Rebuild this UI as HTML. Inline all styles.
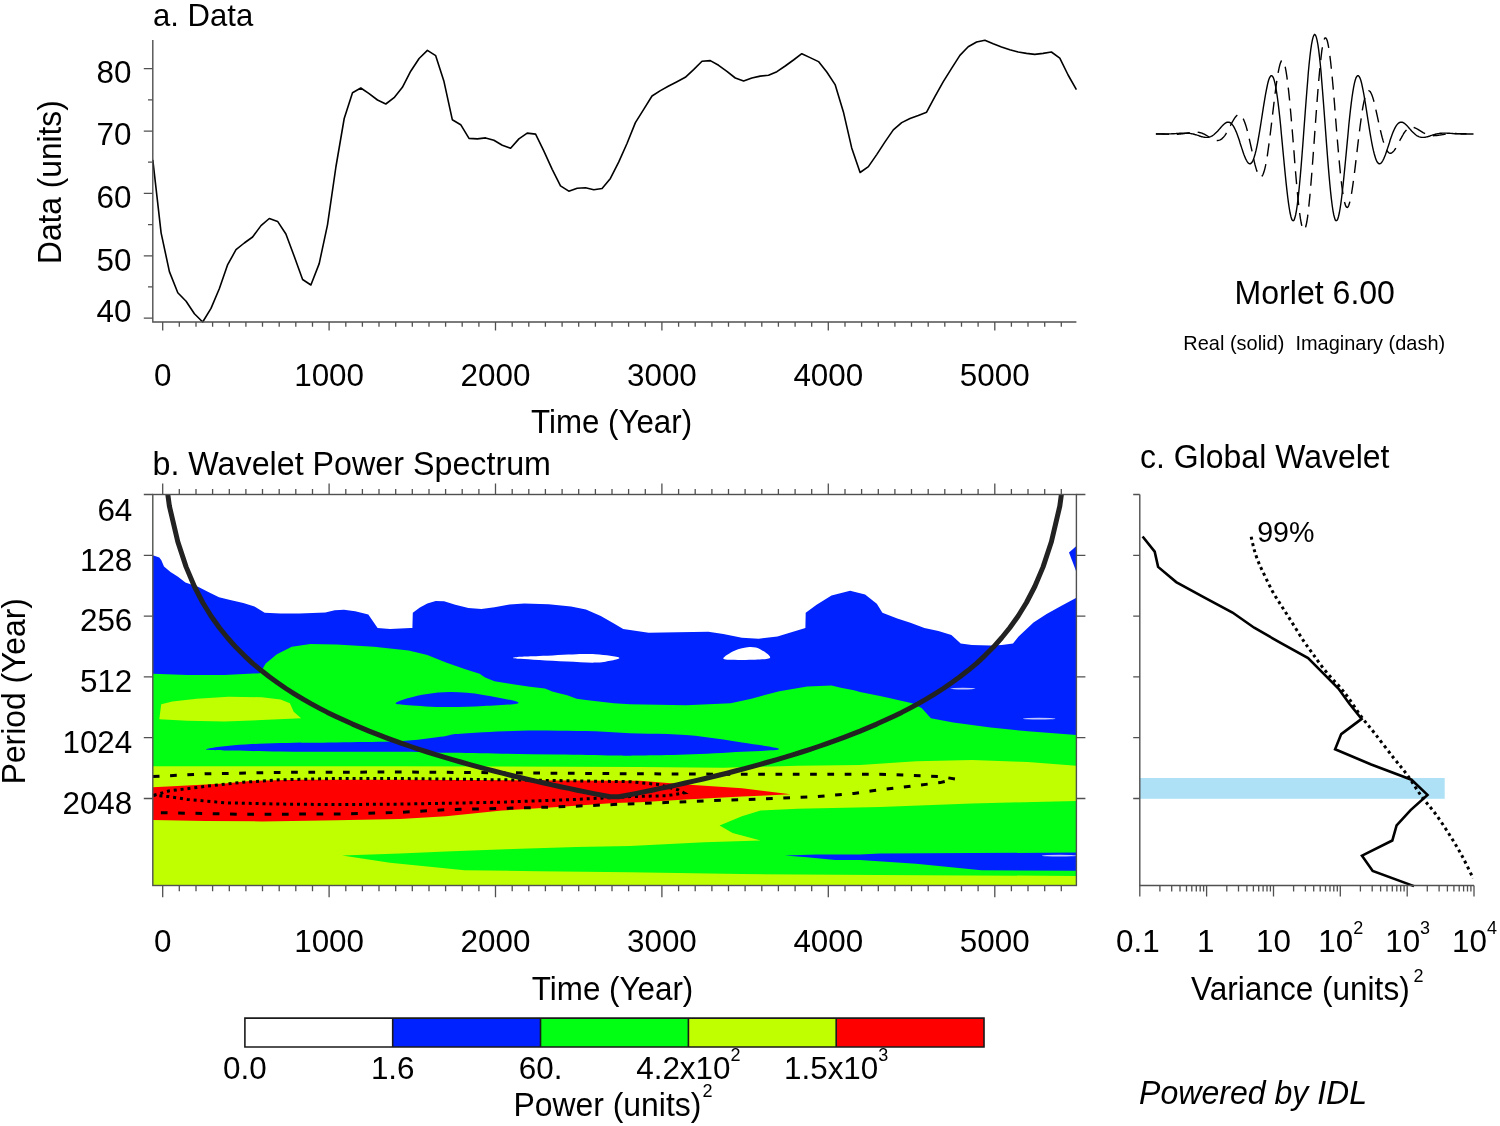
<!DOCTYPE html>
<html><head><meta charset="utf-8"><style>
html,body{margin:0;padding:0;background:#fff;}
svg{display:block;filter:blur(0.45px);}
text{font-family:"Liberation Sans", sans-serif;fill:#000;}
</style></head><body>
<svg width="1500" height="1126" viewBox="0 0 1500 1126">
<rect width="1500" height="1126" fill="#fff"/>
<polyline points="152.8,159.9 161.1,232.8 169.4,271.6 177.8,292.7 186.1,301.2 194.4,313.8 202.7,322.0 211.0,308.4 219.4,288.5 227.7,264.6 236.0,249.7 244.3,243.0 252.6,237.0 261.0,225.6 269.3,218.5 277.6,221.4 285.9,234.0 294.3,256.5 302.6,279.5 310.9,285.0 319.2,263.6 327.5,224.8 335.9,167.0 344.2,118.5 352.5,92.7 360.8,88.0 369.1,93.6 377.5,100.0 385.8,104.0 394.1,97.7 402.4,87.3 410.7,71.2 419.1,58.5 427.4,50.4 435.7,55.7 444.0,81.6 452.3,119.7 460.7,124.7 469.0,138.4 477.3,138.9 485.6,137.9 493.9,140.3 502.3,145.3 510.6,148.3 518.9,138.9 527.2,133.1 535.6,134.1 543.9,151.2 552.2,169.3 560.5,185.9 568.8,191.2 577.2,188.3 585.5,187.8 593.8,189.8 602.1,188.5 610.4,178.4 618.8,161.9 627.1,143.2 635.4,122.6 643.7,109.3 652.0,96.0 660.4,90.6 668.7,86.0 677.0,81.7 685.3,77.3 693.6,69.6 702.0,61.3 710.3,60.6 718.6,65.3 726.9,71.3 735.3,78.0 743.6,81.0 751.9,78.0 760.2,76.1 768.5,75.3 776.9,71.7 785.2,66.0 793.5,60.0 801.8,53.7 810.1,57.6 818.5,61.6 826.8,72.0 835.1,84.6 843.4,111.9 851.7,147.9 860.1,172.5 868.4,166.6 876.7,154.6 885.0,141.9 893.3,129.9 901.7,122.6 910.0,118.5 918.3,115.6 926.6,112.2 934.9,96.6 943.3,81.6 951.6,68.4 959.9,55.4 968.2,46.8 976.6,42.0 984.9,40.2 993.2,43.8 1001.5,47.0 1009.8,49.8 1018.2,52.0 1026.5,53.4 1034.8,54.4 1043.1,53.4 1051.4,52.0 1059.8,58.2 1068.1,75.0 1076.4,89.6" fill="none" stroke="#000" stroke-width="1.6" stroke-linejoin="round"/>
<path d="M152.8,40 V322 H1076.4" fill="none" stroke="#505050" stroke-width="1.4"/>
<path d="M143.8,318.1H152.8M148.0,286.9H152.8M143.8,255.8H152.8M148.0,224.6H152.8M143.8,193.4H152.8M148.0,162.2H152.8M143.8,131.1H152.8M148.0,99.9H152.8M143.8,68.7H152.8M162.7,322V330.4M179.3,322V326.7M196.0,322V326.7M212.6,322V326.7M229.3,322V326.7M245.9,322V326.7M262.5,322V326.7M279.2,322V326.7M295.8,322V326.7M312.5,322V326.7M329.1,322V330.4M345.8,322V326.7M362.4,322V326.7M379.0,322V326.7M395.7,322V326.7M412.3,322V326.7M429.0,322V326.7M445.6,322V326.7M462.2,322V326.7M478.9,322V326.7M495.5,322V330.4M512.2,322V326.7M528.8,322V326.7M545.4,322V326.7M562.1,322V326.7M578.7,322V326.7M595.4,322V326.7M612.0,322V326.7M628.6,322V326.7M645.3,322V326.7M661.9,322V330.4M678.6,322V326.7M695.2,322V326.7M711.9,322V326.7M728.5,322V326.7M745.1,322V326.7M761.8,322V326.7M778.4,322V326.7M795.1,322V326.7M811.7,322V326.7M828.3,322V330.4M845.0,322V326.7M861.6,322V326.7M878.3,322V326.7M894.9,322V326.7M911.5,322V326.7M928.2,322V326.7M944.8,322V326.7M961.5,322V326.7M978.1,322V326.7M994.8,322V330.4M1011.4,322V326.7M1028.0,322V326.7M1044.7,322V326.7M1061.3,322V326.7" stroke="#505050" stroke-width="1.3" fill="none"/>
<text x="131.50" y="83.2" font-size="31.4" text-anchor="end" >80</text>
<text x="131.50" y="145.4" font-size="31.4" text-anchor="end" >70</text>
<text x="131.50" y="207.9" font-size="31.4" text-anchor="end" >60</text>
<text x="131.50" y="270.5" font-size="31.4" text-anchor="end" >50</text>
<text x="131.50" y="321.5" font-size="31.4" text-anchor="end" >40</text>
<text x="162.70" y="385.5" font-size="31.4" text-anchor="middle" >0</text>
<text x="329.11" y="385.5" font-size="31.4" text-anchor="middle" >1000</text>
<text x="495.52" y="385.5" font-size="31.4" text-anchor="middle" >2000</text>
<text x="661.93" y="385.5" font-size="31.4" text-anchor="middle" >3000</text>
<text x="828.34" y="385.5" font-size="31.4" text-anchor="middle" >4000</text>
<text x="994.75" y="385.5" font-size="31.4" text-anchor="middle" >5000</text>
<text transform="matrix(1 0 0 1.035 0 -15.17)" x="531.10" y="433.3" font-size="31.27"  xml:space="preserve">Time (Year)</text>
<text transform="matrix(1 0 0 1.035 0 -0.91)" x="152.98" y="26.0" font-size="31.12"  xml:space="preserve">a. Data</text>
<text transform="translate(61.3,261.4) rotate(-90) scale(1,1.035)" x="-2.60" y="0" font-size="31.69">Data (units)</text>
<polyline points="1155.9,134.0 1156.7,134.0 1157.5,134.0 1158.3,134.0 1159.0,134.0 1159.8,134.0 1160.6,134.0 1161.4,134.0 1162.2,134.0 1163.0,134.0 1163.8,134.0 1164.6,134.0 1165.4,134.0 1166.2,134.0 1167.0,134.0 1167.8,134.0 1168.6,134.0 1169.4,133.9 1170.2,133.9 1171.0,133.9 1171.8,133.8 1172.5,133.8 1173.3,133.7 1174.1,133.7 1174.9,133.6 1175.7,133.6 1176.5,133.5 1177.3,133.5 1178.1,133.4 1178.9,133.4 1179.7,133.3 1180.5,133.2 1181.3,133.2 1182.1,133.2 1182.9,133.1 1183.7,133.1 1184.5,133.1 1185.3,133.1 1186.0,133.1 1186.8,133.1 1187.6,133.2 1188.4,133.2 1189.2,133.3 1190.0,133.4 1190.8,133.6 1191.6,133.7 1192.4,133.9 1193.2,134.0 1194.0,134.2 1194.8,134.5 1195.6,134.7 1196.4,134.9 1197.2,135.2 1198.0,135.4 1198.8,135.7 1199.5,136.0 1200.3,136.2 1201.1,136.5 1201.9,136.7 1202.7,136.9 1203.5,137.1 1204.3,137.2 1205.1,137.4 1205.9,137.4 1206.7,137.4 1207.5,137.4 1208.3,137.3 1209.1,137.1 1209.9,136.9 1210.7,136.6 1211.5,136.2 1212.3,135.8 1213.0,135.3 1213.8,134.7 1214.6,134.0 1215.4,133.3 1216.2,132.6 1217.0,131.7 1217.8,130.9 1218.6,130.0 1219.4,129.1 1220.2,128.2 1221.0,127.3 1221.8,126.4 1222.6,125.5 1223.4,124.7 1224.2,124.0 1225.0,123.4 1225.8,122.9 1226.5,122.5 1227.3,122.2 1228.1,122.2 1228.9,122.2 1229.7,122.5 1230.5,122.9 1231.3,123.5 1232.1,124.4 1232.9,125.4 1233.7,126.7 1234.5,128.1 1235.3,129.8 1236.1,131.6 1236.9,133.6 1237.7,135.7 1238.5,138.0 1239.3,140.3 1240.0,142.7 1240.8,145.2 1241.6,147.6 1242.4,150.1 1243.2,152.4 1244.0,154.7 1244.8,156.7 1245.6,158.6 1246.4,160.3 1247.2,161.7 1248.0,162.7 1248.8,163.4 1249.6,163.8 1250.4,163.7 1251.2,163.2 1252.0,162.3 1252.8,160.9 1253.6,159.1 1254.3,156.8 1255.1,154.0 1255.9,150.9 1256.7,147.3 1257.5,143.3 1258.3,139.0 1259.1,134.4 1259.9,129.6 1260.7,124.6 1261.5,119.5 1262.3,114.3 1263.1,109.2 1263.9,104.1 1264.7,99.3 1265.5,94.7 1266.3,90.4 1267.1,86.5 1267.8,83.2 1268.6,80.3 1269.4,78.1 1270.2,76.6 1271.0,75.7 1271.8,75.7 1272.6,76.4 1273.4,77.9 1274.2,80.3 1275.0,83.4 1275.8,87.4 1276.6,92.1 1277.4,97.5 1278.2,103.6 1279.0,110.4 1279.8,117.6 1280.6,125.3 1281.3,133.3 1282.1,141.6 1282.9,150.1 1283.7,158.5 1284.5,166.9 1285.3,175.0 1286.1,182.9 1286.9,190.2 1287.7,197.0 1288.5,203.2 1289.3,208.5 1290.1,213.0 1290.9,216.5 1291.7,219.1 1292.5,220.5 1293.3,220.8 1294.1,220.0 1294.8,218.1 1295.6,215.0 1296.4,210.8 1297.2,205.5 1298.0,199.2 1298.8,191.9 1299.6,183.8 1300.4,174.9 1301.2,165.4 1302.0,155.3 1302.8,144.9 1303.6,134.1 1304.4,123.3 1305.2,112.5 1306.0,102.0 1306.8,91.7 1307.6,81.9 1308.3,72.7 1309.1,64.3 1309.9,56.8 1310.7,50.2 1311.5,44.6 1312.3,40.3 1313.1,37.1 1313.9,35.2 1314.7,34.5 1315.5,35.2 1316.3,37.1 1317.1,40.3 1317.9,44.6 1318.7,50.2 1319.5,56.8 1320.3,64.3 1321.1,72.7 1321.8,81.9 1322.6,91.7 1323.4,102.0 1324.2,112.5 1325.0,123.3 1325.8,134.1 1326.6,144.9 1327.4,155.3 1328.2,165.4 1329.0,174.9 1329.8,183.8 1330.6,191.9 1331.4,199.2 1332.2,205.5 1333.0,210.8 1333.8,215.0 1334.6,218.1 1335.3,220.0 1336.1,220.8 1336.9,220.5 1337.7,219.1 1338.5,216.5 1339.3,213.0 1340.1,208.5 1340.9,203.2 1341.7,197.0 1342.5,190.2 1343.3,182.9 1344.1,175.0 1344.9,166.9 1345.7,158.5 1346.5,150.1 1347.3,141.6 1348.1,133.3 1348.8,125.3 1349.6,117.6 1350.4,110.4 1351.2,103.6 1352.0,97.5 1352.8,92.1 1353.6,87.4 1354.4,83.4 1355.2,80.3 1356.0,77.9 1356.8,76.4 1357.6,75.7 1358.4,75.7 1359.2,76.6 1360.0,78.1 1360.8,80.3 1361.6,83.2 1362.3,86.5 1363.1,90.4 1363.9,94.7 1364.7,99.3 1365.5,104.1 1366.3,109.2 1367.1,114.3 1367.9,119.5 1368.7,124.6 1369.5,129.6 1370.3,134.4 1371.1,139.0 1371.9,143.3 1372.7,147.3 1373.5,150.9 1374.3,154.0 1375.1,156.8 1375.8,159.1 1376.6,160.9 1377.4,162.3 1378.2,163.2 1379.0,163.7 1379.8,163.8 1380.6,163.4 1381.4,162.7 1382.2,161.7 1383.0,160.3 1383.8,158.6 1384.6,156.7 1385.4,154.7 1386.2,152.4 1387.0,150.1 1387.8,147.6 1388.6,145.2 1389.4,142.7 1390.1,140.3 1390.9,138.0 1391.7,135.7 1392.5,133.6 1393.3,131.6 1394.1,129.8 1394.9,128.1 1395.7,126.7 1396.5,125.4 1397.3,124.4 1398.1,123.5 1398.9,122.9 1399.7,122.5 1400.5,122.2 1401.3,122.2 1402.1,122.2 1402.9,122.5 1403.6,122.9 1404.4,123.4 1405.2,124.0 1406.0,124.7 1406.8,125.5 1407.6,126.4 1408.4,127.3 1409.2,128.2 1410.0,129.1 1410.8,130.0 1411.6,130.9 1412.4,131.7 1413.2,132.6 1414.0,133.3 1414.8,134.0 1415.6,134.7 1416.4,135.3 1417.1,135.8 1417.9,136.2 1418.7,136.6 1419.5,136.9 1420.3,137.1 1421.1,137.3 1421.9,137.4 1422.7,137.4 1423.5,137.4 1424.3,137.4 1425.1,137.2 1425.9,137.1 1426.7,136.9 1427.5,136.7 1428.3,136.5 1429.1,136.2 1429.9,136.0 1430.6,135.7 1431.4,135.4 1432.2,135.2 1433.0,134.9 1433.8,134.7 1434.6,134.5 1435.4,134.2 1436.2,134.0 1437.0,133.9 1437.8,133.7 1438.6,133.6 1439.4,133.4 1440.2,133.3 1441.0,133.2 1441.8,133.2 1442.6,133.1 1443.4,133.1 1444.1,133.1 1444.9,133.1 1445.7,133.1 1446.5,133.1 1447.3,133.2 1448.1,133.2 1448.9,133.2 1449.7,133.3 1450.5,133.4 1451.3,133.4 1452.1,133.5 1452.9,133.5 1453.7,133.6 1454.5,133.6 1455.3,133.7 1456.1,133.7 1456.9,133.8 1457.6,133.8 1458.4,133.9 1459.2,133.9 1460.0,133.9 1460.8,134.0 1461.6,134.0 1462.4,134.0 1463.2,134.0 1464.0,134.0 1464.8,134.0 1465.6,134.0 1466.4,134.0 1467.2,134.0 1468.0,134.0 1468.8,134.0 1469.6,134.0 1470.4,134.0 1471.1,134.0 1471.9,134.0 1472.7,134.0 1473.5,134.0" fill="none" stroke="#000" stroke-width="1.4"/>
<polyline points="1155.9,133.9 1156.7,133.9 1157.5,133.9 1158.3,133.9 1159.0,133.9 1159.8,133.9 1160.6,133.9 1161.4,133.9 1162.2,134.0 1163.0,134.0 1163.8,134.0 1164.6,134.0 1165.4,134.1 1166.2,134.1 1167.0,134.1 1167.8,134.1 1168.6,134.2 1169.4,134.2 1170.2,134.2 1171.0,134.2 1171.8,134.2 1172.5,134.2 1173.3,134.3 1174.1,134.3 1174.9,134.2 1175.7,134.2 1176.5,134.2 1177.3,134.2 1178.1,134.2 1178.9,134.1 1179.7,134.1 1180.5,134.0 1181.3,133.9 1182.1,133.8 1182.9,133.7 1183.7,133.6 1184.5,133.5 1185.3,133.4 1186.0,133.3 1186.8,133.2 1187.6,133.0 1188.4,132.9 1189.2,132.8 1190.0,132.7 1190.8,132.6 1191.6,132.4 1192.4,132.3 1193.2,132.3 1194.0,132.2 1194.8,132.2 1195.6,132.1 1196.4,132.2 1197.2,132.2 1198.0,132.3 1198.8,132.4 1199.5,132.5 1200.3,132.7 1201.1,132.9 1201.9,133.2 1202.7,133.5 1203.5,133.8 1204.3,134.2 1205.1,134.6 1205.9,135.0 1206.7,135.5 1207.5,136.0 1208.3,136.5 1209.1,137.0 1209.9,137.5 1210.7,138.0 1211.5,138.5 1212.3,138.9 1213.0,139.3 1213.8,139.7 1214.6,140.0 1215.4,140.3 1216.2,140.5 1217.0,140.6 1217.8,140.5 1218.6,140.4 1219.4,140.2 1220.2,139.9 1221.0,139.4 1221.8,138.9 1222.6,138.1 1223.4,137.3 1224.2,136.4 1225.0,135.3 1225.8,134.1 1226.5,132.8 1227.3,131.5 1228.1,130.0 1228.9,128.6 1229.7,127.0 1230.5,125.5 1231.3,123.9 1232.1,122.4 1232.9,121.0 1233.7,119.6 1234.5,118.3 1235.3,117.2 1236.1,116.2 1236.9,115.5 1237.7,114.9 1238.5,114.6 1239.3,114.5 1240.0,114.7 1240.8,115.3 1241.6,116.1 1242.4,117.2 1243.2,118.6 1244.0,120.4 1244.8,122.5 1245.6,124.8 1246.4,127.4 1247.2,130.3 1248.0,133.5 1248.8,136.8 1249.6,140.3 1250.4,143.8 1251.2,147.5 1252.0,151.2 1252.8,154.8 1253.6,158.4 1254.3,161.8 1255.1,165.0 1255.9,167.9 1256.7,170.6 1257.5,172.8 1258.3,174.6 1259.1,176.0 1259.9,176.8 1260.7,177.1 1261.5,176.8 1262.3,175.8 1263.1,174.3 1263.9,172.1 1264.7,169.3 1265.5,165.9 1266.3,161.9 1267.1,157.3 1267.8,152.3 1268.6,146.7 1269.4,140.8 1270.2,134.5 1271.0,127.9 1271.8,121.2 1272.6,114.4 1273.4,107.6 1274.2,100.9 1275.0,94.4 1275.8,88.2 1276.6,82.4 1277.4,77.1 1278.2,72.4 1279.0,68.3 1279.8,65.0 1280.6,62.6 1281.3,61.0 1282.1,60.3 1282.9,60.6 1283.7,61.9 1284.5,64.2 1285.3,67.4 1286.1,71.7 1286.9,76.9 1287.7,82.9 1288.5,89.8 1289.3,97.4 1290.1,105.7 1290.9,114.6 1291.7,123.9 1292.5,133.5 1293.3,143.3 1294.1,153.1 1294.8,162.9 1295.6,172.5 1296.4,181.8 1297.2,190.5 1298.0,198.7 1298.8,206.1 1299.6,212.7 1300.4,218.4 1301.2,223.0 1302.0,226.5 1302.8,228.8 1303.6,229.9 1304.4,229.8 1305.2,228.4 1306.0,225.8 1306.8,222.0 1307.6,216.9 1308.3,210.8 1309.1,203.7 1309.9,195.6 1310.7,186.6 1311.5,177.0 1312.3,166.7 1313.1,156.0 1313.9,145.0 1314.7,133.9 1315.5,122.8 1316.3,111.8 1317.1,101.1 1317.9,90.8 1318.7,81.2 1319.5,72.2 1320.3,64.1 1321.1,57.0 1321.8,50.9 1322.6,45.8 1323.4,42.0 1324.2,39.4 1325.0,38.0 1325.8,37.9 1326.6,39.0 1327.4,41.3 1328.2,44.8 1329.0,49.4 1329.8,55.1 1330.6,61.7 1331.4,69.1 1332.2,77.3 1333.0,86.0 1333.8,95.3 1334.6,104.9 1335.3,114.7 1336.1,124.5 1336.9,134.3 1337.7,143.9 1338.5,153.2 1339.3,162.1 1340.1,170.4 1340.9,178.0 1341.7,184.9 1342.5,190.9 1343.3,196.1 1344.1,200.4 1344.9,203.6 1345.7,205.9 1346.5,207.2 1347.3,207.5 1348.1,206.8 1348.8,205.2 1349.6,202.8 1350.4,199.5 1351.2,195.4 1352.0,190.7 1352.8,185.4 1353.6,179.6 1354.4,173.4 1355.2,166.9 1356.0,160.2 1356.8,153.4 1357.6,146.6 1358.4,139.9 1359.2,133.3 1360.0,127.0 1360.8,121.1 1361.6,115.5 1362.3,110.5 1363.1,105.9 1363.9,101.9 1364.7,98.5 1365.5,95.7 1366.3,93.5 1367.1,92.0 1367.9,91.0 1368.7,90.7 1369.5,91.0 1370.3,91.8 1371.1,93.2 1371.9,95.0 1372.7,97.2 1373.5,99.9 1374.3,102.8 1375.1,106.0 1375.8,109.4 1376.6,113.0 1377.4,116.6 1378.2,120.3 1379.0,124.0 1379.8,127.5 1380.6,131.0 1381.4,134.3 1382.2,137.5 1383.0,140.4 1383.8,143.0 1384.6,145.3 1385.4,147.4 1386.2,149.2 1387.0,150.6 1387.8,151.7 1388.6,152.5 1389.4,153.1 1390.1,153.3 1390.9,153.2 1391.7,152.9 1392.5,152.3 1393.3,151.6 1394.1,150.6 1394.9,149.5 1395.7,148.2 1396.5,146.8 1397.3,145.4 1398.1,143.9 1398.9,142.3 1399.7,140.8 1400.5,139.2 1401.3,137.8 1402.1,136.3 1402.9,135.0 1403.6,133.7 1404.4,132.5 1405.2,131.4 1406.0,130.5 1406.8,129.7 1407.6,128.9 1408.4,128.4 1409.2,127.9 1410.0,127.6 1410.8,127.4 1411.6,127.3 1412.4,127.2 1413.2,127.3 1414.0,127.5 1414.8,127.8 1415.6,128.1 1416.4,128.5 1417.1,128.9 1417.9,129.3 1418.7,129.8 1419.5,130.3 1420.3,130.8 1421.1,131.3 1421.9,131.8 1422.7,132.3 1423.5,132.8 1424.3,133.2 1425.1,133.6 1425.9,134.0 1426.7,134.3 1427.5,134.6 1428.3,134.9 1429.1,135.1 1429.9,135.3 1430.6,135.4 1431.4,135.5 1432.2,135.6 1433.0,135.6 1433.8,135.7 1434.6,135.6 1435.4,135.6 1436.2,135.5 1437.0,135.5 1437.8,135.4 1438.6,135.2 1439.4,135.1 1440.2,135.0 1441.0,134.9 1441.8,134.8 1442.6,134.6 1443.4,134.5 1444.1,134.4 1444.9,134.3 1445.7,134.2 1446.5,134.1 1447.3,134.0 1448.1,133.9 1448.9,133.8 1449.7,133.7 1450.5,133.7 1451.3,133.6 1452.1,133.6 1452.9,133.6 1453.7,133.6 1454.5,133.6 1455.3,133.5 1456.1,133.5 1456.9,133.6 1457.6,133.6 1458.4,133.6 1459.2,133.6 1460.0,133.6 1460.8,133.6 1461.6,133.7 1462.4,133.7 1463.2,133.7 1464.0,133.7 1464.8,133.8 1465.6,133.8 1466.4,133.8 1467.2,133.8 1468.0,133.9 1468.8,133.9 1469.6,133.9 1470.4,133.9 1471.1,133.9 1471.9,133.9 1472.7,133.9 1473.5,133.9" fill="none" stroke="#000" stroke-width="1.4" stroke-dasharray="13 8"/>
<text transform="matrix(1 0 0 1.035 0 -10.63)" x="1234.57" y="303.7" font-size="32.08"  xml:space="preserve">Morlet 6.00</text>
<text transform="matrix(1 0 0 1.035 0 -12.24)" x="1183.36" y="349.8" font-size="19.97"  xml:space="preserve">Real (solid)  Imaginary (dash)</text>
<defs><clipPath id="cb"><rect x="152.8" y="494.5" width="923.6" height="391"/></clipPath></defs>
<g clip-path="url(#cb)">
<rect x="152.8" y="494.5" width="923.6" height="391" fill="#bfff00"/>
<polygon points="152.8,494.5 1076.4,494.5 1076.4,765.8 1027.9,762.1 972.0,759.9 916.0,761.2 860.0,764.9 797.9,765.8 723.3,767.7 640.0,767.0 400.0,766.2 152.8,766.2" fill="#00ff12"/>
<polygon points="152.8,494.5 1076.4,494.5 1076.4,735.0 1027.9,731.3 990.6,727.6 953.3,722.5 930.9,718.2 921.6,708.0 912.2,703.3 888.0,697.7 880.0,695.9 860.0,692.1 853.9,690.3 840.8,687.8 831.5,685.6 807.2,686.5 779.3,691.2 751.3,698.7 730.7,703.3 686.0,705.2 630.0,704.3 613.9,703.3 585.9,700.0 576.6,698.7 567.2,695.2 557.9,693.1 552.3,691.5 544.9,688.4 529.9,686.8 511.3,684.0 494.5,681.2 485.1,677.5 479.6,673.8 464.6,669.1 446.0,662.6 427.3,655.1 408.7,650.4 390.0,648.6 373.9,646.7 336.6,644.5 310.4,643.9 291.8,646.7 276.9,654.2 265.7,663.5 260.0,673.2 224.6,675.1 187.3,675.1 152.8,673.8" fill="#0022ff"/>
<polygon points="152.8,494.5 1076.4,494.5 1076.4,597.8 1061.5,605.7 1046.6,614.1 1033.5,622.5 1018.6,636.5 1013.0,643.4 1001.8,644.9 990.6,645.4 971.9,644.9 960.7,643.4 951.4,635.1 938.4,630.9 924.4,628.1 910.4,622.8 897.3,618.4 882.4,612.8 876.8,603.8 865.1,594.5 850.1,590.7 831.5,595.4 816.6,604.7 805.7,612.8 805.4,628.1 777.4,636.5 758.7,638.7 741.9,637.8 723.3,634.0 708.4,631.8 676.6,632.2 648.7,632.7 630.0,629.9 623.2,629.0 613.9,623.4 600.8,615.9 585.9,609.4 571.0,606.6 548.6,604.2 524.3,603.4 509.4,604.4 494.5,607.2 481.4,609.0 468.4,608.1 455.3,604.7 444.1,601.2 435.7,601.0 427.3,603.4 419.9,607.5 412.8,612.8 412.4,628.0 410.5,628.0 390.0,629.0 377.6,628.0 368.3,614.6 355.2,611.3 344.0,609.8 334.7,610.3 325.4,612.4 299.3,613.5 280.6,613.5 264.7,612.8 254.5,606.6 243.3,602.9 230.2,600.1 219.0,597.3 207.8,591.7 198.5,587.0 185.4,582.4 178.0,576.8 170.5,572.1 164.0,566.5 161.2,560.0 159.3,557.5 152.8,555.3" fill="#fff"/>
<polygon points="1069.0,552.5 1076.4,546.0 1076.4,572.1" fill="#0022ff"/>
<path d="M513.1,657.9C513.1,657.6 516.2,657.1 520.6,656.8C525.0,656.5 530.0,656.4 539.3,656.0C548.6,655.6 567.3,654.5 576.6,654.2C585.9,653.9 589.6,654.0 595.2,654.2C600.8,654.5 606.1,655.1 610.1,655.7C614.1,656.3 619.5,657.1 619.5,657.9C619.5,658.7 614.1,659.9 610.1,660.7C606.1,661.5 602.4,662.5 595.2,662.6C588.1,662.8 576.5,662.0 567.2,661.6C557.9,661.2 547.1,660.6 539.3,660.1C531.5,659.6 525.0,659.2 520.6,658.8C516.2,658.4 513.1,658.2 513.1,657.9Z" fill="#fff"/>
<path d="M723.3,658.5C723.3,657.0 730.1,652.7 734.5,650.8C738.9,648.9 745.0,647.3 749.4,647.1C753.8,646.9 757.2,647.7 760.6,649.5C764.0,651.3 771.8,656.2 769.9,657.9C768.0,659.6 755.3,659.5 749.4,659.8C743.5,660.1 738.9,660.0 734.5,659.8C730.1,659.6 723.3,660.0 723.3,658.5Z" fill="#fff"/>
<path d="M395.6,703.3C395.6,702.1 403.4,699.5 408.7,698.0C414.0,696.5 420.1,695.0 427.3,694.0C434.5,693.0 442.3,692.0 451.6,692.1C460.9,692.2 472.1,693.1 483.3,694.9C494.5,696.7 518.7,700.9 518.7,702.8C518.7,704.7 495.4,705.4 483.3,706.1C471.2,706.8 458.4,707.2 446.0,707.1C433.6,707.0 417.1,705.8 408.7,705.2C400.3,704.6 395.6,704.5 395.6,703.3Z" fill="#0022ff"/>
<path d="M206.0,749.4C206.0,748.5 221.6,746.3 234.0,745.3C246.4,744.2 263.5,743.6 280.6,743.1C297.7,742.6 318.4,742.8 336.6,742.5C354.8,742.2 376.4,742.1 390.0,741.6C403.6,741.1 408.7,740.6 418.0,739.7C427.3,738.8 439.8,736.9 446.0,736.0C452.2,735.1 449.1,734.7 455.3,734.1C461.5,733.5 472.4,732.8 483.3,732.2C494.2,731.6 508.2,731.0 520.6,730.7C533.0,730.5 545.5,730.6 557.9,730.7C570.3,730.8 583.2,730.9 595.2,731.3C607.2,731.7 618.0,732.7 630.0,733.2C642.0,733.7 654.9,733.5 667.3,734.1C679.7,734.7 692.1,735.5 704.6,736.9C717.1,738.3 729.5,740.5 742.0,742.5C754.5,744.5 779.3,747.5 779.3,749.0C779.3,750.5 757.5,750.9 742.0,751.8C726.5,752.7 703.0,754.0 686.0,754.6C669.0,755.2 652.0,755.4 640.0,755.6C628.0,755.8 627.6,755.8 613.9,755.6C600.2,755.4 576.5,754.9 557.9,754.6C539.2,754.3 520.6,754.0 502.0,753.7C483.4,753.4 463.0,753.1 446.0,752.8C429.0,752.5 418.2,752.0 400.0,751.8C381.8,751.6 356.5,751.8 336.6,751.8C316.7,751.8 297.7,751.7 280.6,751.5C263.5,751.3 246.4,750.9 234.0,750.5C221.6,750.1 206.0,750.3 206.0,749.4Z" fill="#0022ff"/>
<polygon points="159.3,719.2 161.2,704.3 172.4,701.5 196.6,698.7 228.4,696.8 261.9,697.2 280.6,699.6 289.9,703.3 293.7,711.7 301.1,718.2 261.9,720.1 224.6,721.4 187.3,720.7" fill="#bfff00"/>
<polygon points="342.2,855.4 400.0,853.5 446.0,851.6 520.6,848.8 576.6,847.0 630.0,846.0 704.6,842.3 760.6,840.4 732.6,833.0 719.6,825.5 741.9,816.2 760.6,810.6 797.9,808.7 880.0,806.9 972.0,803.5 1076.4,800.9 1076.4,875.9 880.0,875.0 742.0,874.0 630.0,872.2 539.3,871.2 464.6,870.3 390.0,862.8" fill="#00ff12"/>
<polygon points="784.9,855.4 816.6,854.4 860.0,854.4 880.0,853.5 1076.4,852.6 1076.4,870.7 981.3,870.3 916.0,863.8 860.0,860.0 835.2,860.0 807.2,857.2" fill="#0022ff"/>
<polygon points="152.8,787.3 187.3,785.4 224.6,783.5 252.6,780.7 299.3,779.8 400.0,779.8 640.0,780.7 686.0,784.5 742.0,788.2 790.4,794.2 742.0,796.6 686.0,799.4 640.0,802.2 613.9,803.1 557.9,806.9 502.0,810.6 446.0,816.2 400.0,819.0 336.6,820.3 261.9,821.4 206.0,820.9 152.8,819.9" fill="#ff0000"/>
<ellipse cx="962.9" cy="688.6" rx="12.6" ry="0.9" fill="#fff" opacity="0.75"/>
<ellipse cx="1039.2" cy="718.7" rx="16.1" ry="0.9" fill="#fff" opacity="0.75"/>
<ellipse cx="1059.2" cy="855.7" rx="17.2" ry="0.9" fill="#fff" opacity="0.75"/>
<polyline points="152.8,776.6 206.0,773.8 280.6,772.4 400.0,772.0 640.0,773.8 723.0,774.2 880.0,774.2 940.0,776.5 955.0,779.0 940.2,782.6 870.7,791.0 853.9,793.4 816.6,796.6 760.6,799.0 704.6,800.9 641.2,803.5 623.2,804.1 557.9,806.9 502.0,808.4 446.0,809.7 397.5,812.5 336.6,814.0 243.3,814.3 152.8,812.5" fill="none" stroke="#000" stroke-width="3" stroke-dasharray="6.7 10.6"/>
<polygon points="153.7,795.3 168.7,791.0 206.0,786.3 243.3,782.2 280.6,779.8 336.6,778.5 400.0,778.5 520.0,780.0 630.0,781.7 658.0,784.5 678.5,790.0 684.1,792.9 667.3,795.7 630.0,796.6 576.6,799.4 502.0,802.2 400.0,804.1 336.6,804.6 280.6,804.1 224.6,802.8 187.3,799.4 168.7,796.6" fill="none" stroke="#000" stroke-width="3" stroke-dasharray="3 3.9"/>
<polyline points="161.1,445.3 169.4,506.1 177.8,541.7 186.1,566.9 194.4,586.5 202.7,602.5 211.0,616.0 219.4,627.7 227.7,638.0 236.0,647.3 244.3,655.6 252.6,663.3 261.0,670.3 269.3,676.8 277.6,682.8 285.9,688.5 294.3,693.8 302.6,698.8 310.9,703.6 319.2,708.1 327.5,712.4 335.9,716.4 344.2,720.3 352.5,724.1 360.8,727.6 369.1,731.1 377.5,734.4 385.8,737.6 394.1,740.7 402.4,743.6 410.7,746.5 419.1,749.3 427.4,752.0 435.7,754.6 444.0,757.2 452.3,759.6 460.7,762.0 469.0,764.4 477.3,766.7 485.6,768.9 493.9,771.0 502.3,773.2 510.6,775.2 518.9,777.2 527.2,779.2 535.6,781.1 543.9,783.0 552.2,784.9 560.5,786.7 568.8,788.4 577.2,790.2 585.5,791.9 593.8,793.6 602.1,795.2 610.4,796.8 618.8,796.8 627.1,795.2 635.4,793.6 643.7,791.9 652.0,790.2 660.4,788.4 668.7,786.7 677.0,784.9 685.3,783.0 693.6,781.1 702.0,779.2 710.3,777.2 718.6,775.2 726.9,773.2 735.3,771.0 743.6,768.9 751.9,766.7 760.2,764.4 768.5,762.0 776.9,759.6 785.2,757.2 793.5,754.6 801.8,752.0 810.1,749.3 818.5,746.5 826.8,743.6 835.1,740.7 843.4,737.6 851.7,734.4 860.1,731.1 868.4,727.6 876.7,724.1 885.0,720.3 893.3,716.4 901.7,712.4 910.0,708.1 918.3,703.6 926.6,698.8 934.9,693.8 943.3,688.5 951.6,682.8 959.9,676.8 968.2,670.3 976.6,663.3 984.9,655.6 993.2,647.3 1001.5,638.0 1009.8,627.7 1018.2,616.0 1026.5,602.5 1034.8,586.5 1043.1,566.9 1051.4,541.7 1059.8,506.1 1068.1,445.3" fill="none" stroke="#222" stroke-width="5" stroke-linejoin="round"/>
</g>
<rect x="152.8" y="494.5" width="923.6" height="391" fill="none" stroke="#505050" stroke-width="1.4"/>
<path d="M162.7,494.5V483.5M162.7,885.5V897.2M179.3,494.5V489.0M179.3,885.5V891.2M196.0,494.5V489.0M196.0,885.5V891.2M212.6,494.5V489.0M212.6,885.5V891.2M229.3,494.5V489.0M229.3,885.5V891.2M245.9,494.5V489.0M245.9,885.5V891.2M262.5,494.5V489.0M262.5,885.5V891.2M279.2,494.5V489.0M279.2,885.5V891.2M295.8,494.5V489.0M295.8,885.5V891.2M312.5,494.5V489.0M312.5,885.5V891.2M329.1,494.5V483.5M329.1,885.5V897.2M345.8,494.5V489.0M345.8,885.5V891.2M362.4,494.5V489.0M362.4,885.5V891.2M379.0,494.5V489.0M379.0,885.5V891.2M395.7,494.5V489.0M395.7,885.5V891.2M412.3,494.5V489.0M412.3,885.5V891.2M429.0,494.5V489.0M429.0,885.5V891.2M445.6,494.5V489.0M445.6,885.5V891.2M462.2,494.5V489.0M462.2,885.5V891.2M478.9,494.5V489.0M478.9,885.5V891.2M495.5,494.5V483.5M495.5,885.5V897.2M512.2,494.5V489.0M512.2,885.5V891.2M528.8,494.5V489.0M528.8,885.5V891.2M545.4,494.5V489.0M545.4,885.5V891.2M562.1,494.5V489.0M562.1,885.5V891.2M578.7,494.5V489.0M578.7,885.5V891.2M595.4,494.5V489.0M595.4,885.5V891.2M612.0,494.5V489.0M612.0,885.5V891.2M628.6,494.5V489.0M628.6,885.5V891.2M645.3,494.5V489.0M645.3,885.5V891.2M661.9,494.5V483.5M661.9,885.5V897.2M678.6,494.5V489.0M678.6,885.5V891.2M695.2,494.5V489.0M695.2,885.5V891.2M711.9,494.5V489.0M711.9,885.5V891.2M728.5,494.5V489.0M728.5,885.5V891.2M745.1,494.5V489.0M745.1,885.5V891.2M761.8,494.5V489.0M761.8,885.5V891.2M778.4,494.5V489.0M778.4,885.5V891.2M795.1,494.5V489.0M795.1,885.5V891.2M811.7,494.5V489.0M811.7,885.5V891.2M828.3,494.5V483.5M828.3,885.5V897.2M845.0,494.5V489.0M845.0,885.5V891.2M861.6,494.5V489.0M861.6,885.5V891.2M878.3,494.5V489.0M878.3,885.5V891.2M894.9,494.5V489.0M894.9,885.5V891.2M911.5,494.5V489.0M911.5,885.5V891.2M928.2,494.5V489.0M928.2,885.5V891.2M944.8,494.5V489.0M944.8,885.5V891.2M961.5,494.5V489.0M961.5,885.5V891.2M978.1,494.5V489.0M978.1,885.5V891.2M994.8,494.5V483.5M994.8,885.5V897.2M1011.4,494.5V489.0M1011.4,885.5V891.2M1028.0,494.5V489.0M1028.0,885.5V891.2M1044.7,494.5V489.0M1044.7,885.5V891.2M1061.3,494.5V489.0M1061.3,885.5V891.2M143.8,494.5H152.8M1076.4,494.5H1085.4M143.8,555.3H152.8M1076.4,555.3H1085.4M143.8,616.1H152.8M1076.4,616.1H1085.4M143.8,676.9H152.8M1076.4,676.9H1085.4M143.8,737.7H152.8M1076.4,737.7H1085.4M143.8,798.5H152.8M1076.4,798.5H1085.4" stroke="#505050" stroke-width="1.3" fill="none"/>
<text x="132.30" y="520.7" font-size="31.4" text-anchor="end" >64</text>
<text x="132.30" y="570.6" font-size="31.4" text-anchor="end" >128</text>
<text x="132.30" y="631.4" font-size="31.4" text-anchor="end" >256</text>
<text x="132.30" y="692.2" font-size="31.4" text-anchor="end" >512</text>
<text x="132.30" y="753.0" font-size="31.4" text-anchor="end" >1024</text>
<text x="132.30" y="813.8" font-size="31.4" text-anchor="end" >2048</text>
<text x="162.70" y="952.4" font-size="31.4" text-anchor="middle" >0</text>
<text x="329.11" y="952.4" font-size="31.4" text-anchor="middle" >1000</text>
<text x="495.52" y="952.4" font-size="31.4" text-anchor="middle" >2000</text>
<text x="661.93" y="952.4" font-size="31.4" text-anchor="middle" >3000</text>
<text x="828.34" y="952.4" font-size="31.4" text-anchor="middle" >4000</text>
<text x="994.75" y="952.4" font-size="31.4" text-anchor="middle" >5000</text>
<text transform="matrix(1 0 0 1.035 0 -35.02)" x="531.80" y="1000.5" font-size="31.38"  xml:space="preserve">Time (Year)</text>
<text transform="matrix(1 0 0 1.035 0 -16.62)" x="152.52" y="474.8" font-size="32.26"  xml:space="preserve">b. Wavelet Power Spectrum</text>
<text transform="translate(25.0,781.7) rotate(-90) scale(1,1.035)" x="-2.61" y="0" font-size="31.81">Period (Year)</text>
<rect x="1139.8" y="778" width="304.9" height="20.8" fill="#aee1f6"/>
<polyline points="1142.6,536.5 1154.7,551.7 1158.1,566.9 1176.2,582.1 1204.1,597.3 1232.5,612.5 1254.2,627.7 1280.6,642.9 1308.1,658.1 1323.3,673.3 1338.4,688.5 1349.4,703.7 1361.6,718.9 1341.2,734.1 1335.1,749.3 1371.2,764.5 1411.5,779.7 1427.5,794.9 1410.6,810.1 1396.6,825.3 1392.3,840.5 1362.0,855.7 1372.7,870.9 1414.0,886.1" fill="none" stroke="#000" stroke-width="2.6" stroke-linejoin="miter"/>
<path d="M1251.2,536.8C1251.7,539.1 1253.1,545.9 1254.4,550.4C1255.7,554.9 1257.3,559.4 1259.2,563.9C1261.1,568.4 1263.3,572.8 1265.6,577.5C1267.9,582.2 1270.3,587.4 1272.8,591.9C1275.3,596.4 1278.2,600.7 1280.7,604.7C1283.2,608.7 1285.4,611.9 1287.9,615.9C1290.4,619.9 1293.2,624.5 1295.9,628.7C1298.6,633.0 1301.2,637.4 1303.9,641.4C1306.6,645.4 1309.2,648.9 1311.9,652.6C1314.6,656.3 1317.0,659.9 1319.9,663.8C1322.8,667.7 1326.3,672.1 1329.5,675.8C1332.7,679.5 1335.9,682.5 1339.1,686.2C1342.3,689.9 1345.0,693.1 1348.7,698.2C1352.4,703.3 1356.8,710.6 1361.3,716.6C1365.8,722.6 1370.2,727.6 1375.5,734.4C1380.8,741.2 1388.0,750.7 1393.3,757.5C1398.6,764.3 1402.8,768.8 1407.5,775.3C1412.2,781.8 1417.0,790.1 1421.7,796.6C1426.4,803.1 1431.2,807.9 1435.9,814.4C1440.6,820.9 1445.6,828.6 1450.1,835.7C1454.5,842.8 1458.8,849.9 1462.6,857.0C1466.4,864.1 1471.4,874.8 1473.2,878.3" fill="none" stroke="#000" stroke-width="3" stroke-dasharray="3 3.4"/>
<path d="M1139.8,494.5V885.5H1474" fill="none" stroke="#505050" stroke-width="1.4"/>
<path d="M1133.2,494.5H1139.8M1133.2,555.3H1139.8M1133.2,616.1H1139.8M1133.2,676.9H1139.8M1133.2,737.7H1139.8M1133.2,798.5H1139.8M1139.8,885.5V896.5M1159.9,885.5V891.5M1171.7,885.5V891.5M1180.0,885.5V891.5M1186.5,885.5V891.5M1191.8,885.5V891.5M1196.3,885.5V891.5M1200.2,885.5V891.5M1203.6,885.5V891.5M1206.6,885.5V896.5M1226.8,885.5V891.5M1238.5,885.5V891.5M1246.9,885.5V891.5M1253.4,885.5V891.5M1258.7,885.5V891.5M1263.1,885.5V891.5M1267.0,885.5V891.5M1270.4,885.5V891.5M1273.5,885.5V896.5M1293.6,885.5V891.5M1305.4,885.5V891.5M1313.7,885.5V891.5M1320.2,885.5V891.5M1325.5,885.5V891.5M1330.0,885.5V891.5M1333.8,885.5V891.5M1337.3,885.5V891.5M1340.3,885.5V896.5M1360.4,885.5V891.5M1372.2,885.5V891.5M1380.6,885.5V891.5M1387.0,885.5V891.5M1392.3,885.5V891.5M1396.8,885.5V891.5M1400.7,885.5V891.5M1404.1,885.5V891.5M1407.2,885.5V896.5M1427.3,885.5V891.5M1439.1,885.5V891.5M1447.4,885.5V891.5M1453.9,885.5V891.5M1459.2,885.5V891.5M1463.6,885.5V891.5M1467.5,885.5V891.5M1470.9,885.5V891.5M1474,885.5V896.5" stroke="#505050" stroke-width="1.3" fill="none"/>
<text x="1137.80" y="952.2" font-size="31.4" text-anchor="middle" >0.1</text>
<text x="1205.64" y="952.2" font-size="31.4" text-anchor="middle" >1</text>
<text x="1273.48" y="952.2" font-size="31.4" text-anchor="middle" >10</text>
<text x="1318.35" y="952.2" font-size="31.4">10</text>
<text x="1353.28" y="934.2" font-size="18">2</text>
<text x="1385.19" y="952.2" font-size="31.4">10</text>
<text x="1420.12" y="934.2" font-size="18">3</text>
<text x="1452.03" y="952.2" font-size="31.4">10</text>
<text x="1486.96" y="934.2" font-size="18">4</text>
<text transform="matrix(1 0 0 1.035 0 -34.99)" x="1191.06" y="999.6" font-size="31.57"  xml:space="preserve">Variance (units)</text>
<text x="1413.6" y="981.8" font-size="18">2</text>
<text transform="matrix(1 0 0 1.035 0 -16.39)" x="1140.04" y="468.2" font-size="31.99"  xml:space="preserve">c. Global Wavelet</text>
<text transform="matrix(1 0 0 1.035 0 -18.96)" x="1257.16" y="541.6" font-size="28.66"  xml:space="preserve">99%</text>
<rect x="244.9" y="1018.1" width="147.9" height="28.9" fill="#fff"/>
<rect x="392.7" y="1018.1" width="147.9" height="28.9" fill="#0022ff"/>
<rect x="540.5" y="1018.1" width="147.9" height="28.9" fill="#00ff12"/>
<rect x="688.4" y="1018.1" width="147.9" height="28.9" fill="#bfff00"/>
<rect x="836.2" y="1018.1" width="147.9" height="28.9" fill="#ff0000"/>
<path d="M244.9,1018.1H984.0V1047H244.9ZM392.7,1018.1V1047M540.5,1018.1V1047M688.4,1018.1V1047M836.2,1018.1V1047" stroke="#1a1a1a" stroke-width="1.6" fill="none"/>
<text x="244.90" y="1078.6" font-size="31.4" text-anchor="middle" >0.0</text>
<text x="392.72" y="1078.6" font-size="31.4" text-anchor="middle" >1.6</text>
<text x="540.54" y="1078.6" font-size="31.4" text-anchor="middle" >60.</text>
<text x="636.22" y="1078.6" font-size="31.4">4.2x10</text>
<text x="730.49" y="1060.6" font-size="18">2</text>
<text x="784.04" y="1078.6" font-size="31.4">1.5x10</text>
<text x="878.31" y="1060.6" font-size="18">3</text>
<text transform="matrix(1 0 0 1.035 0 -39.05)" x="513.38" y="1115.6" font-size="31.93"  xml:space="preserve">Power (units)</text>
<text x="702.6" y="1097.4" font-size="18">2</text>
<text transform="matrix(1 0 0 1.035 0 -38.65)" x="1139.11" y="1104.4" font-size="32.06" font-style="italic" xml:space="preserve">Powered by IDL</text>
</svg></body></html>
